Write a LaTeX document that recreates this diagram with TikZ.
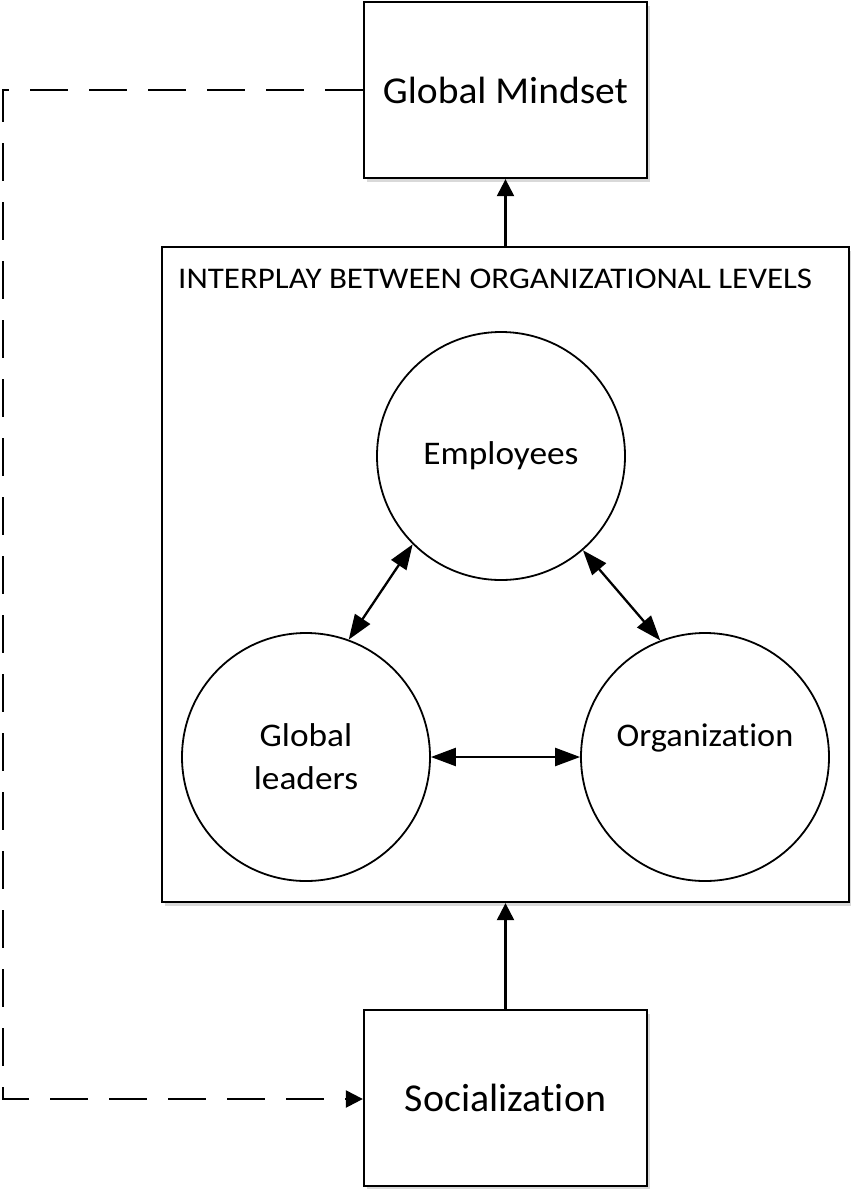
\documentclass[tikz,border=0pt]{standalone}
\usepackage{fontspec}
\usepackage{graphicx}
\setmainfont{Carlito}[Ligatures={NoCommon}]
\usetikzlibrary{arrows.meta,shadows}
\newcommand{\hstretch}[2]{\scalebox{#1}[1]{#2}}
\begin{document}
\begin{tikzpicture}[x=1pt,y=-1pt,
  boxnode/.style={draw,line width=2.3pt,rectangle,fill=white,inner sep=0pt,
    drop shadow={shadow xshift=3pt,shadow yshift=-4pt,opacity=0.3,fill=gray}},
  circnode/.style={draw,line width=1.8pt,circle,minimum size=248pt,inner sep=0pt,align=center,
    font=\fontsize{33}{43}\selectfont},
  conn/.style={line width=2.3pt,-{Triangle[length=17pt,width=17pt]}},
  biconn/.style={line width=2.3pt,{Triangle[length=25pt,width=18pt]}-{Triangle[length=25pt,width=18pt]}},
  dashconn/.style={line width=2.3pt,dash pattern=on 38pt off 21pt,-{Triangle[length=17pt,width=17pt]}}
]
\useasboundingbox (0,0) rectangle (851,1189);
\node[boxnode,minimum width=687pt,minimum height=655pt] (inter) at (505.5,574.5) {};
\node[anchor=west,font=\fontsize{30}{36}\selectfont,inner sep=0pt] (title) at (178,279) {\hstretch{1.10}{INTERPLAY BETWEEN ORGANIZATIONAL LEVELS}};
\node[boxnode,minimum width=283pt,minimum height=176pt,font=\fontsize{38}{44}\selectfont] (mind) at (505.5,90) {\hstretch{1.04}{Global Mindset}};
\node[boxnode,minimum width=283pt,minimum height=176pt,font=\fontsize{39.5}{46}\selectfont] (soc) at (505.5,1098) {\hstretch{1.01}{Socialization}};
\node[circnode] (emp) at (501,456) {\hstretch{1.07}{Employees}};
\node[circnode] (lead) at (306,757) {\hstretch{1.07}{Global}\\\hstretch{1.07}{leaders}};
\node[circnode] (org) at (705,757) {\hstretch{1.04}{Organization}\\\mbox{}};
\coordinate (c1) at (3,90);
\coordinate (c2) at (3,1099);
\draw[conn] (inter.north -| mind.south) -- (mind.south);
\draw[conn] (soc.north) -- (inter.south -| soc.north);
\draw[biconn] (emp.225) -- (lead.70);
\draw[biconn] (emp.-49) -- (org.111);
\draw[biconn] (lead.east) -- (org.west);
\draw[dashconn] (mind.west) -- (c1) -- (c2) -- (c2 -| soc.west);
\end{tikzpicture}
\end{document}
